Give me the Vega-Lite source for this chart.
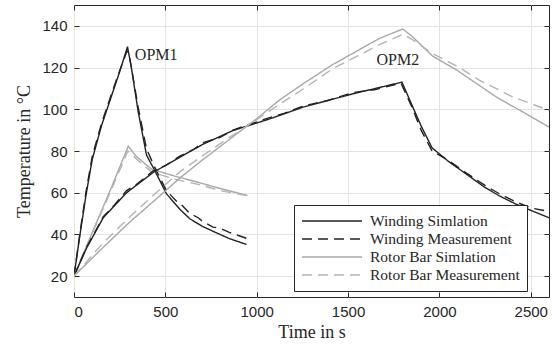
{
  "$schema": "https://vega.github.io/schema/vega-lite/v6.json",
  "width": 475,
  "height": 292,
  "autosize": {"type": "none"},
  "padding": {"left": 74, "top": 5, "right": 4, "bottom": 48},
  "background": "white",
  "config": {
    "view": {"stroke": "#262626", "strokeWidth": 1},
    "axis": {
      "domain": false,
      "tickColor": "#262626",
      "tickSize": -5,
      "labelFont": "Liberation Sans",
      "labelFontSize": 15,
      "labelColor": "#262626",
      "titleFont": "Liberation Serif",
      "titleFontSize": 18,
      "titleFontWeight": "normal",
      "titleColor": "#262626",
      "gridColor": "#e3e3e3",
      "gridWidth": 1,
      "format": "d"
    },
    "legend": {
      "orient": "none",
      "legendX": 220,
      "legendY": 200,
      "strokeColor": "#262626",
      "fillColor": "white",
      "padding": 7,
      "symbolType": "M-3.75,0H3.75",
      "symbolSize": 256,
      "symbolOffset": 22,
      "symbolStrokeWidth": 1.5,
      "labelFont": "Liberation Serif",
      "labelFontSize": 15.5,
      "labelColor": "#262626",
      "labelOffset": 29,
      "labelLimit": 220,
      "rowPadding": -1
    }
  },
  "datasets": {
    "curves": [
      {"series": "Winding Simlation", "opm": "OPM1", "t": 0, "T": 20},
      {"series": "Winding Simlation", "opm": "OPM1", "t": 33, "T": 40},
      {"series": "Winding Simlation", "opm": "OPM1", "t": 66, "T": 59},
      {"series": "Winding Simlation", "opm": "OPM1", "t": 100, "T": 76},
      {"series": "Winding Simlation", "opm": "OPM1", "t": 150, "T": 92},
      {"series": "Winding Simlation", "opm": "OPM1", "t": 200, "T": 105},
      {"series": "Winding Simlation", "opm": "OPM1", "t": 250, "T": 118},
      {"series": "Winding Simlation", "opm": "OPM1", "t": 293, "T": 130},
      {"series": "Winding Simlation", "opm": "OPM1", "t": 315, "T": 119.5},
      {"series": "Winding Simlation", "opm": "OPM1", "t": 351, "T": 99},
      {"series": "Winding Simlation", "opm": "OPM1", "t": 397, "T": 78},
      {"series": "Winding Simlation", "opm": "OPM1", "t": 443, "T": 70.5},
      {"series": "Winding Simlation", "opm": "OPM1", "t": 506, "T": 59.5},
      {"series": "Winding Simlation", "opm": "OPM1", "t": 580, "T": 52},
      {"series": "Winding Simlation", "opm": "OPM1", "t": 634, "T": 47.5},
      {"series": "Winding Simlation", "opm": "OPM1", "t": 700, "T": 44},
      {"series": "Winding Simlation", "opm": "OPM1", "t": 761, "T": 41.5},
      {"series": "Winding Simlation", "opm": "OPM1", "t": 850, "T": 38},
      {"series": "Winding Simlation", "opm": "OPM1", "t": 944, "T": 35.2},

      {"series": "Winding Measurement", "opm": "OPM1", "t": 0, "T": 20},
      {"series": "Winding Measurement", "opm": "OPM1", "t": 33, "T": 41},
      {"series": "Winding Measurement", "opm": "OPM1", "t": 66, "T": 60.5},
      {"series": "Winding Measurement", "opm": "OPM1", "t": 100, "T": 77.5},
      {"series": "Winding Measurement", "opm": "OPM1", "t": 150, "T": 93},
      {"series": "Winding Measurement", "opm": "OPM1", "t": 200, "T": 106},
      {"series": "Winding Measurement", "opm": "OPM1", "t": 250, "T": 118.5},
      {"series": "Winding Measurement", "opm": "OPM1", "t": 290, "T": 128},
      {"series": "Winding Measurement", "opm": "OPM1", "t": 300, "T": 127},
      {"series": "Winding Measurement", "opm": "OPM1", "t": 320, "T": 117},
      {"series": "Winding Measurement", "opm": "OPM1", "t": 351, "T": 101},
      {"series": "Winding Measurement", "opm": "OPM1", "t": 397, "T": 81},
      {"series": "Winding Measurement", "opm": "OPM1", "t": 443, "T": 72},
      {"series": "Winding Measurement", "opm": "OPM1", "t": 506, "T": 61},
      {"series": "Winding Measurement", "opm": "OPM1", "t": 560, "T": 56},
      {"series": "Winding Measurement", "opm": "OPM1", "t": 580, "T": 55},
      {"series": "Winding Measurement", "opm": "OPM1", "t": 634, "T": 50},
      {"series": "Winding Measurement", "opm": "OPM1", "t": 680, "T": 48},
      {"series": "Winding Measurement", "opm": "OPM1", "t": 700, "T": 46.5},
      {"series": "Winding Measurement", "opm": "OPM1", "t": 761, "T": 43.5},
      {"series": "Winding Measurement", "opm": "OPM1", "t": 800, "T": 43},
      {"series": "Winding Measurement", "opm": "OPM1", "t": 850, "T": 41},
      {"series": "Winding Measurement", "opm": "OPM1", "t": 900, "T": 39.5},
      {"series": "Winding Measurement", "opm": "OPM1", "t": 948, "T": 38},

      {"series": "Rotor Bar Simlation", "opm": "OPM1", "t": 0, "T": 20},
      {"series": "Rotor Bar Simlation", "opm": "OPM1", "t": 100, "T": 41},
      {"series": "Rotor Bar Simlation", "opm": "OPM1", "t": 200, "T": 61.5},
      {"series": "Rotor Bar Simlation", "opm": "OPM1", "t": 297, "T": 82.3},
      {"series": "Rotor Bar Simlation", "opm": "OPM1", "t": 340, "T": 77.5},
      {"series": "Rotor Bar Simlation", "opm": "OPM1", "t": 424, "T": 71.3},
      {"series": "Rotor Bar Simlation", "opm": "OPM1", "t": 550, "T": 68},
      {"series": "Rotor Bar Simlation", "opm": "OPM1", "t": 679, "T": 65},
      {"series": "Rotor Bar Simlation", "opm": "OPM1", "t": 800, "T": 62},
      {"series": "Rotor Bar Simlation", "opm": "OPM1", "t": 950, "T": 58.7},

      {"series": "Rotor Bar Measurement", "opm": "OPM1", "t": 0, "T": 20},
      {"series": "Rotor Bar Measurement", "opm": "OPM1", "t": 100, "T": 40.5},
      {"series": "Rotor Bar Measurement", "opm": "OPM1", "t": 200, "T": 60.5},
      {"series": "Rotor Bar Measurement", "opm": "OPM1", "t": 295, "T": 80},
      {"series": "Rotor Bar Measurement", "opm": "OPM1", "t": 350, "T": 75.5},
      {"series": "Rotor Bar Measurement", "opm": "OPM1", "t": 424, "T": 70},
      {"series": "Rotor Bar Measurement", "opm": "OPM1", "t": 550, "T": 66.5},
      {"series": "Rotor Bar Measurement", "opm": "OPM1", "t": 679, "T": 64},
      {"series": "Rotor Bar Measurement", "opm": "OPM1", "t": 800, "T": 61},
      {"series": "Rotor Bar Measurement", "opm": "OPM1", "t": 950, "T": 58.5},

      {"series": "Winding Simlation", "opm": "OPM2", "t": 0, "T": 20},
      {"series": "Winding Simlation", "opm": "OPM2", "t": 69, "T": 33.5},
      {"series": "Winding Simlation", "opm": "OPM2", "t": 160, "T": 48},
      {"series": "Winding Simlation", "opm": "OPM2", "t": 288, "T": 60},
      {"series": "Winding Simlation", "opm": "OPM2", "t": 433, "T": 69.7},
      {"series": "Winding Simlation", "opm": "OPM2", "t": 579, "T": 77},
      {"series": "Winding Simlation", "opm": "OPM2", "t": 707, "T": 83.3},
      {"series": "Winding Simlation", "opm": "OPM2", "t": 870, "T": 89.8},
      {"series": "Winding Simlation", "opm": "OPM2", "t": 1071, "T": 95.4},
      {"series": "Winding Simlation", "opm": "OPM2", "t": 1253, "T": 101},
      {"series": "Winding Simlation", "opm": "OPM2", "t": 1526, "T": 107.4},
      {"series": "Winding Simlation", "opm": "OPM2", "t": 1650, "T": 110},
      {"series": "Winding Simlation", "opm": "OPM2", "t": 1795, "T": 113},
      {"series": "Winding Simlation", "opm": "OPM2", "t": 1850, "T": 102},
      {"series": "Winding Simlation", "opm": "OPM2", "t": 1900, "T": 92},
      {"series": "Winding Simlation", "opm": "OPM2", "t": 1960, "T": 81.5},
      {"series": "Winding Simlation", "opm": "OPM2", "t": 2050, "T": 75},
      {"series": "Winding Simlation", "opm": "OPM2", "t": 2146, "T": 69},
      {"series": "Winding Simlation", "opm": "OPM2", "t": 2250, "T": 62.5},
      {"series": "Winding Simlation", "opm": "OPM2", "t": 2328, "T": 58.5},
      {"series": "Winding Simlation", "opm": "OPM2", "t": 2420, "T": 54.5},
      {"series": "Winding Simlation", "opm": "OPM2", "t": 2510, "T": 51.2},
      {"series": "Winding Simlation", "opm": "OPM2", "t": 2600, "T": 48},

      {"series": "Winding Measurement", "opm": "OPM2", "t": 0, "T": 20},
      {"series": "Winding Measurement", "opm": "OPM2", "t": 69, "T": 34},
      {"series": "Winding Measurement", "opm": "OPM2", "t": 120, "T": 42},
      {"series": "Winding Measurement", "opm": "OPM2", "t": 160, "T": 48.5},
      {"series": "Winding Measurement", "opm": "OPM2", "t": 220, "T": 54},
      {"series": "Winding Measurement", "opm": "OPM2", "t": 288, "T": 61},
      {"series": "Winding Measurement", "opm": "OPM2", "t": 350, "T": 64.5},
      {"series": "Winding Measurement", "opm": "OPM2", "t": 433, "T": 70.5},
      {"series": "Winding Measurement", "opm": "OPM2", "t": 500, "T": 73},
      {"series": "Winding Measurement", "opm": "OPM2", "t": 579, "T": 77.5},
      {"series": "Winding Measurement", "opm": "OPM2", "t": 650, "T": 80.5},
      {"series": "Winding Measurement", "opm": "OPM2", "t": 707, "T": 84},
      {"series": "Winding Measurement", "opm": "OPM2", "t": 800, "T": 86.5},
      {"series": "Winding Measurement", "opm": "OPM2", "t": 870, "T": 90},
      {"series": "Winding Measurement", "opm": "OPM2", "t": 950, "T": 92.5},
      {"series": "Winding Measurement", "opm": "OPM2", "t": 1071, "T": 96},
      {"series": "Winding Measurement", "opm": "OPM2", "t": 1150, "T": 98},
      {"series": "Winding Measurement", "opm": "OPM2", "t": 1253, "T": 101.5},
      {"series": "Winding Measurement", "opm": "OPM2", "t": 1400, "T": 104.5},
      {"series": "Winding Measurement", "opm": "OPM2", "t": 1526, "T": 108},
      {"series": "Winding Measurement", "opm": "OPM2", "t": 1650, "T": 109.5},
      {"series": "Winding Measurement", "opm": "OPM2", "t": 1790, "T": 112.5},
      {"series": "Winding Measurement", "opm": "OPM2", "t": 1850, "T": 101},
      {"series": "Winding Measurement", "opm": "OPM2", "t": 1900, "T": 90},
      {"series": "Winding Measurement", "opm": "OPM2", "t": 1960, "T": 80},
      {"series": "Winding Measurement", "opm": "OPM2", "t": 2000, "T": 78},
      {"series": "Winding Measurement", "opm": "OPM2", "t": 2050, "T": 75.5},
      {"series": "Winding Measurement", "opm": "OPM2", "t": 2146, "T": 69.5},
      {"series": "Winding Measurement", "opm": "OPM2", "t": 2250, "T": 63.5},
      {"series": "Winding Measurement", "opm": "OPM2", "t": 2328, "T": 59.5},
      {"series": "Winding Measurement", "opm": "OPM2", "t": 2420, "T": 55.5},
      {"series": "Winding Measurement", "opm": "OPM2", "t": 2510, "T": 52.5},
      {"series": "Winding Measurement", "opm": "OPM2", "t": 2600, "T": 51},

      {"series": "Rotor Bar Simlation", "opm": "OPM2", "t": 0, "T": 20},
      {"series": "Rotor Bar Simlation", "opm": "OPM2", "t": 150, "T": 33},
      {"series": "Rotor Bar Simlation", "opm": "OPM2", "t": 300, "T": 45.5},
      {"series": "Rotor Bar Simlation", "opm": "OPM2", "t": 450, "T": 57},
      {"series": "Rotor Bar Simlation", "opm": "OPM2", "t": 579, "T": 67},
      {"series": "Rotor Bar Simlation", "opm": "OPM2", "t": 700, "T": 75.5},
      {"series": "Rotor Bar Simlation", "opm": "OPM2", "t": 850, "T": 85.5},
      {"series": "Rotor Bar Simlation", "opm": "OPM2", "t": 1000, "T": 95.5},
      {"series": "Rotor Bar Simlation", "opm": "OPM2", "t": 1126, "T": 104.5},
      {"series": "Rotor Bar Simlation", "opm": "OPM2", "t": 1250, "T": 112},
      {"series": "Rotor Bar Simlation", "opm": "OPM2", "t": 1417, "T": 121.5},
      {"series": "Rotor Bar Simlation", "opm": "OPM2", "t": 1550, "T": 128},
      {"series": "Rotor Bar Simlation", "opm": "OPM2", "t": 1672, "T": 134},
      {"series": "Rotor Bar Simlation", "opm": "OPM2", "t": 1800, "T": 138.5},
      {"series": "Rotor Bar Simlation", "opm": "OPM2", "t": 1850, "T": 135},
      {"series": "Rotor Bar Simlation", "opm": "OPM2", "t": 1963, "T": 125.5},
      {"series": "Rotor Bar Simlation", "opm": "OPM2", "t": 2100, "T": 118.5},
      {"series": "Rotor Bar Simlation", "opm": "OPM2", "t": 2310, "T": 106},
      {"series": "Rotor Bar Simlation", "opm": "OPM2", "t": 2450, "T": 99},
      {"series": "Rotor Bar Simlation", "opm": "OPM2", "t": 2600, "T": 91.5},

      {"series": "Rotor Bar Measurement", "opm": "OPM2", "t": 0, "T": 20},
      {"series": "Rotor Bar Measurement", "opm": "OPM2", "t": 150, "T": 35},
      {"series": "Rotor Bar Measurement", "opm": "OPM2", "t": 300, "T": 48},
      {"series": "Rotor Bar Measurement", "opm": "OPM2", "t": 450, "T": 60},
      {"series": "Rotor Bar Measurement", "opm": "OPM2", "t": 579, "T": 70},
      {"series": "Rotor Bar Measurement", "opm": "OPM2", "t": 700, "T": 77.5},
      {"series": "Rotor Bar Measurement", "opm": "OPM2", "t": 850, "T": 86.5},
      {"series": "Rotor Bar Measurement", "opm": "OPM2", "t": 1000, "T": 95},
      {"series": "Rotor Bar Measurement", "opm": "OPM2", "t": 1126, "T": 102.5},
      {"series": "Rotor Bar Measurement", "opm": "OPM2", "t": 1250, "T": 109.5},
      {"series": "Rotor Bar Measurement", "opm": "OPM2", "t": 1417, "T": 119.5},
      {"series": "Rotor Bar Measurement", "opm": "OPM2", "t": 1550, "T": 125.5},
      {"series": "Rotor Bar Measurement", "opm": "OPM2", "t": 1672, "T": 131},
      {"series": "Rotor Bar Measurement", "opm": "OPM2", "t": 1800, "T": 136},
      {"series": "Rotor Bar Measurement", "opm": "OPM2", "t": 1850, "T": 133.5},
      {"series": "Rotor Bar Measurement", "opm": "OPM2", "t": 1963, "T": 126.7},
      {"series": "Rotor Bar Measurement", "opm": "OPM2", "t": 2100, "T": 120.5},
      {"series": "Rotor Bar Measurement", "opm": "OPM2", "t": 2218, "T": 114},
      {"series": "Rotor Bar Measurement", "opm": "OPM2", "t": 2400, "T": 106},
      {"series": "Rotor Bar Measurement", "opm": "OPM2", "t": 2600, "T": 99.5}
    ],
    "labels": [
      {"label": "OPM1", "t": 333, "T": 126},
      {"label": "OPM2", "t": 1656, "T": 123.5}
    ]
  },
  "layer": [
    {
      "data": {"name": "curves"},
      "mark": {"type": "line", "strokeWidth": 1.4, "clip": true},
      "encoding": {
        "x": {
          "field": "t", "type": "quantitative",
          "scale": {"domain": [0, 2600], "nice": false, "zero": false},
          "axis": {"title": "Time in s", "values": [0, 500, 1000, 1500, 2000, 2500], "grid": true, "labelPadding": 12, "titlePadding": 4}
        },
        "y": {
          "field": "T", "type": "quantitative",
          "scale": {"domain": [10, 150], "nice": false, "zero": false},
          "axis": {"title": "Temperature in °C", "values": [20, 40, 60, 80, 100, 120, 140], "grid": true, "labelPadding": 12, "titlePadding": 8}
        },
        "color": {
          "field": "series", "type": "nominal",
          "scale": {
            "domain": ["Winding Simlation", "Winding Measurement", "Rotor Bar Simlation", "Rotor Bar Measurement"],
            "range": ["#222222", "#222222", "#a8a8a8", "#b4b4b4"]
          },
          "legend": {"title": null, "labelFont": "Liberation Serif", "labelFontSize": 15.5}
        },
        "strokeDash": {
          "field": "series", "type": "nominal",
          "scale": {
            "domain": ["Winding Simlation", "Winding Measurement", "Rotor Bar Simlation", "Rotor Bar Measurement"],
            "range": [[1, 0], [10, 6], [1, 0], [10, 6]]
          },
          "legend": {"title": null, "labelFont": "Liberation Serif", "labelFontSize": 15.5}
        },
        "detail": {"field": "opm", "type": "nominal"}
      }
    },
    {
      "data": {"name": "labels"},
      "mark": {"type": "text", "font": "Liberation Serif", "fontSize": 16, "align": "left", "baseline": "middle", "color": "#262626"},
      "encoding": {
        "x": {"field": "t", "type": "quantitative", "axis": {"orient": "top", "title": null, "labels": false, "grid": false, "values": [0, 500, 1000, 1500, 2000, 2500]}},
        "y": {"field": "T", "type": "quantitative", "axis": {"orient": "right", "title": null, "labels": false, "grid": false, "values": [20, 40, 60, 80, 100, 120, 140]}},
        "text": {"field": "label"}
      }
    }
  ],
  "resolve": {"axis": {"x": "independent", "y": "independent"}}
}
